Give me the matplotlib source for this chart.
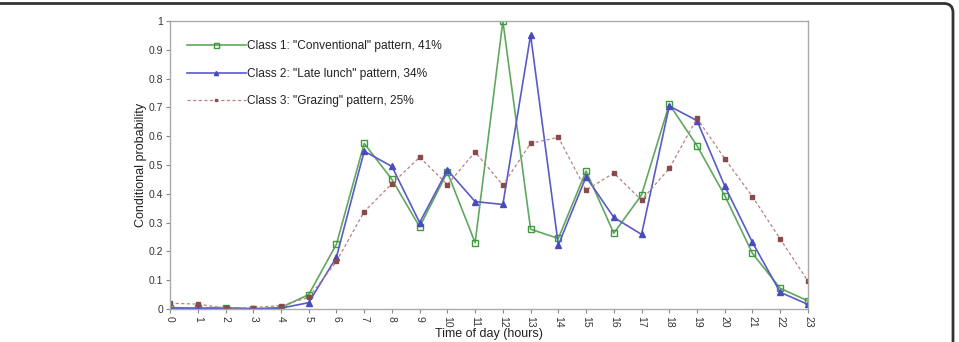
import numpy as np
import matplotlib
matplotlib.use("Agg")
import matplotlib.pyplot as plt
from matplotlib.patches import FancyBboxPatch
from matplotlib.transforms import IdentityTransform

# === 数据 ===
hours = list(range(24))
class1 = [0.005, 0.003, 0.005, 0.001, 0.005, 0.05, 0.225, 0.575, 0.45, 0.285, 0.475, 0.23,
          1.0, 0.277, 0.245, 0.479, 0.263, 0.396, 0.711, 0.567, 0.394, 0.193, 0.072, 0.028]
class2 = [0.003, 0.002, 0.003, 0.0, 0.003, 0.022, 0.18, 0.548, 0.495, 0.30, 0.483, 0.373,
          0.363, 0.951, 0.222, 0.459, 0.318, 0.259, 0.705, 0.654, 0.427, 0.231, 0.058, 0.016]
class3 = [0.02, 0.017, 0.003, 0.005, 0.012, 0.04, 0.165, 0.338, 0.435, 0.527, 0.432, 0.545,
          0.43, 0.575, 0.596, 0.413, 0.472, 0.378, 0.488, 0.662, 0.522, 0.39, 0.243, 0.097]
labels = ['Class 1: "Conventional" pattern, 41%',
          'Class 2: "Late lunch" pattern, 34%',
          'Class 3: "Grazing" pattern, 25%']
yticks = [0, 0.1, 0.2, 0.3, 0.4, 0.5, 0.6, 0.7, 0.8, 0.9, 1]
ytick_labels = ["0", "0.1", "0.2", "0.3", "0.4", "0.5", "0.6", "0.7", "0.8", "0.9", "1"]

plt.rcParams['font.family'] = ['Liberation Sans', 'DejaVu Sans']

fig = plt.figure(figsize=(9.59, 3.42), dpi=100)
ax = fig.add_axes([0.1773, 0.0965, 0.6652, 0.8421])

ax.plot(hours, class1, color='#5fa85f', lw=1.2, marker='s', ms=4.5, mfc='none',
        mec='#3f9a3f', mew=1.0, label=labels[0])
ax.plot(hours, class2, color='#5a5ac8', lw=1.2, marker='^', ms=3.8, mfc='#4a4ac0',
        mec='#4a4ac0', label=labels[1])
ax.plot(hours, class3, color='#b88080', lw=0.9, ls=(0, (2.5, 2)), marker='s', ms=2.2,
        mfc='#8a4a4a', mec='#8a4a4a', label=labels[2])

ax.set_xlim(0, 23)
ax.set_ylim(0, 1)
ax.set_xticks(hours)
ax.set_xticklabels([str(h) for h in hours], rotation=270, fontsize=7.5, color='#333333')
ax.set_yticks(yticks)
ax.set_yticklabels(ytick_labels, fontsize=7.5, color='#333333')
ax.tick_params(length=3, width=0.8, color='#888888', pad=2)
for s in ax.spines.values():
    s.set_color('#aaaaaa')
    s.set_linewidth(1.0)

ax.set_xlabel('Time of day (hours)', fontsize=9, color='#222222', labelpad=0)
ax.set_ylabel('Conditional probability', fontsize=9, color='#222222', labelpad=1)

leg = ax.legend(loc='upper left', frameon=False, fontsize=8.6, handlelength=4.9,
                handletextpad=0.1, labelspacing=1.3, bbox_to_anchor=(0.01, 0.97),
                markerscale=0.8)
for t in leg.get_texts():
    t.set_color('#222222')

# 外框（圆角）
frame = FancyBboxPatch((-30, -30), 983, 368.5, boxstyle="round,pad=0,rounding_size=9",
                       transform=IdentityTransform(), fill=False, lw=2.0,
                       edgecolor='#333333', zorder=10)
fig.patches.append(frame)

fig.savefig("out.png", dpi=100)
